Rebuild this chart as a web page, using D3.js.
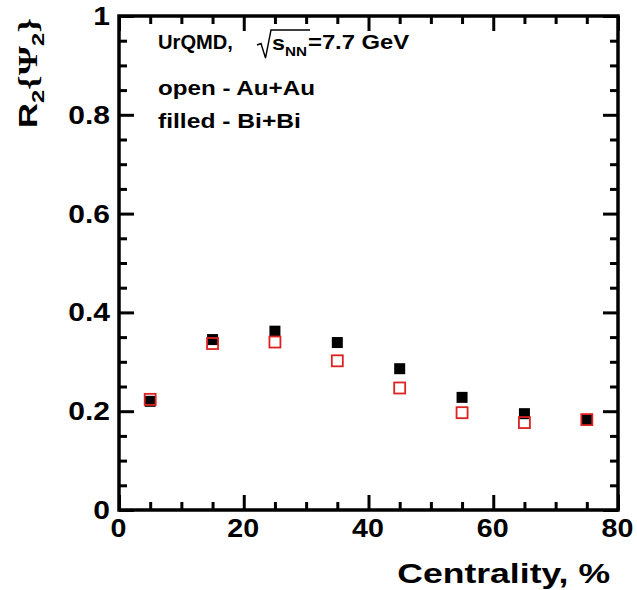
<!DOCTYPE html>
<html>
<head>
<meta charset="utf-8">
<script src="https://cdn.jsdelivr.net/npm/d3@7"></script>
<style>
  body { margin: 0; background: #fff; }
  svg { display: block; }
  text { font-family: "Liberation Sans", Arial, sans-serif; font-weight: bold; fill: #000; }
</style>
</head>
<body>
<svg id="chart" width="637" height="590"></svg>
<script>
// centrality bin centres, %
const centrality = [5, 15, 25, 35, 45, 55, 65, 75];
// R2{Psi2}, filled - Bi+Bi
const biBi = [0.220, 0.345, 0.362, 0.339, 0.286, 0.228, 0.195, 0.183];
// R2{Psi2}, open - Au+Au
const auAu = [0.224, 0.337, 0.340, 0.302, 0.247, 0.197, 0.177, 0.183];

const xMajor = [0, 20, 40, 60, 80];
const yMajor = [0, 0.2, 0.4, 0.6, 0.8, 1];

const svg = d3.select("#chart");
const x = d3.scaleLinear().domain([0, 80]).range([119, 618]);
const y = d3.scaleLinear().domain([0, 1]).range([510, 16]);

const xMinor = d3.range(5, 80, 5).filter(v => v % 20 !== 0);
const yMinor = d3.range(0.05, 1, 0.05).filter(v => Math.abs(v * 5 - Math.round(v * 5)) > 1e-6);

// stretch a text horizontally so that it is w pixels wide
function fit(t, w) {
  const bw = t.node().getBBox().width;
  const tr = t.attr("transform") || "";
  t.attr("transform", tr + " scale(" + (w / bw) + ",1)");
  return t;
}

function styleAxis(g) {
  g.select(".domain").remove();
  g.selectAll("line").attr("stroke", "#000").attr("stroke-width", 3);
}

// left axis
svg.append("g").attr("transform", "translate(" + x(0) + ",0)")
  .call(d3.axisLeft(y).tickValues(yMajor).tickSize(-15).tickPadding(7.5)
    .tickFormat(d => d === 0 || d === 1 ? d3.format("d")(d) : d3.format(".1f")(d)))
  .call(styleAxis)
  .call(g => g.selectAll("text")
    .attr("font-size", 25).attr("font-family", null).attr("dy", "0.34em")
    .attr("transform", "scale(1.2,1)"));
svg.append("g").attr("transform", "translate(" + x(0) + ",0)")
  .call(d3.axisLeft(y).tickValues(yMinor).tickSize(-8).tickFormat(""))
  .call(styleAxis);

// right axis
svg.append("g").attr("transform", "translate(" + x(80) + ",0)")
  .call(d3.axisRight(y).tickValues(yMajor).tickSize(-15).tickFormat(""))
  .call(styleAxis);
svg.append("g").attr("transform", "translate(" + x(80) + ",0)")
  .call(d3.axisRight(y).tickValues(yMinor).tickSize(-8).tickFormat(""))
  .call(styleAxis);

// bottom axis
svg.append("g").attr("transform", "translate(0," + y(0) + ")")
  .call(d3.axisBottom(x).tickValues(xMajor).tickSize(-15).tickPadding(8.5))
  .call(styleAxis)
  .call(g => g.selectAll("text")
    .attr("font-size", 26).attr("font-family", null)
    .attr("transform", "translate(-1,0) scale(1.1,1)"));
svg.append("g").attr("transform", "translate(0," + y(0) + ")")
  .call(d3.axisBottom(x).tickValues(xMinor).tickSize(-8).tickFormat(""))
  .call(styleAxis);

// top axis
svg.append("g").attr("transform", "translate(0," + y(1) + ")")
  .call(d3.axisTop(x).tickValues(xMajor).tickSize(-15).tickFormat(""))
  .call(styleAxis);
svg.append("g").attr("transform", "translate(0," + y(1) + ")")
  .call(d3.axisTop(x).tickValues(xMinor).tickSize(-8).tickFormat(""))
  .call(styleAxis);

// frame
svg.append("rect")
  .attr("x", x(0)).attr("y", y(1))
  .attr("width", x(80) - x(0)).attr("height", y(0) - y(1))
  .attr("fill", "none").attr("stroke", "#000").attr("stroke-width", 3.5);

// markers: filled Bi+Bi first, open Au+Au on top
const s = 11;
svg.append("g").selectAll("rect")
  .data(centrality.map((c, i) => ({c, v: biBi[i]})))
  .enter().append("rect")
  .attr("x", d => x(d.c) - s / 2).attr("y", d => y(d.v) - s / 2)
  .attr("width", s).attr("height", s).attr("fill", "#000");

svg.append("g").selectAll("rect")
  .data(centrality.map((c, i) => ({c, v: auAu[i]})))
  .enter().append("rect")
  .attr("x", d => x(d.c) - s / 2).attr("y", d => y(d.v) - s / 2)
  .attr("width", s).attr("height", s)
  .attr("fill", "none").attr("stroke", "#dd2222").attr("stroke-width", 1.8);

// labels inside the frame
fit(svg.append("text").attr("transform", "translate(158,49)")
  .attr("font-size", 20).text("UrQMD,"), 75);
svg.append("path")
  .attr("d", "M257,45 L261,43.5 L265.5,58 L271,30 H310")
  .attr("fill", "none").attr("stroke", "#000").attr("stroke-width", 1.4);
fit(svg.append("text").attr("transform", "translate(272,50)")
  .attr("font-size", 20).text("s"), 13);
fit(svg.append("text").attr("transform", "translate(285,56)")
  .attr("font-size", 12).text("NN"), 22);
fit(svg.append("text").attr("transform", "translate(308,49)")
  .attr("font-size", 20).text("=7.7 GeV"), 102);
fit(svg.append("text").attr("transform", "translate(158,95)")
  .attr("font-size", 20).text("open - Au+Au"), 157);
fit(svg.append("text").attr("transform", "translate(158,128)")
  .attr("font-size", 20).text("filled - Bi+Bi"), 143);

// x title
fit(svg.append("text").attr("transform", "translate(610,583)")
  .attr("text-anchor", "end").attr("font-size", 28).text("Centrality, %"), 213);

// y title R2{Psi2}
const yt = svg.append("text").attr("transform", "translate(37,128) rotate(-90)")
  .attr("font-size", 25);
yt.append("tspan").text("R");
yt.append("tspan").attr("font-size", 17).attr("dy", 7).text("2");
yt.append("tspan").attr("font-family", "Liberation Serif").attr("font-size", 27)
  .attr("dy", -7).text("{\u03A8");
yt.append("tspan").attr("font-size", 17).attr("dy", 7).text("2");
yt.append("tspan").attr("font-family", "Liberation Serif").attr("font-size", 27)
  .attr("dy", -7).text("}");
fit(yt, 110);
</script>
</body>
</html>
